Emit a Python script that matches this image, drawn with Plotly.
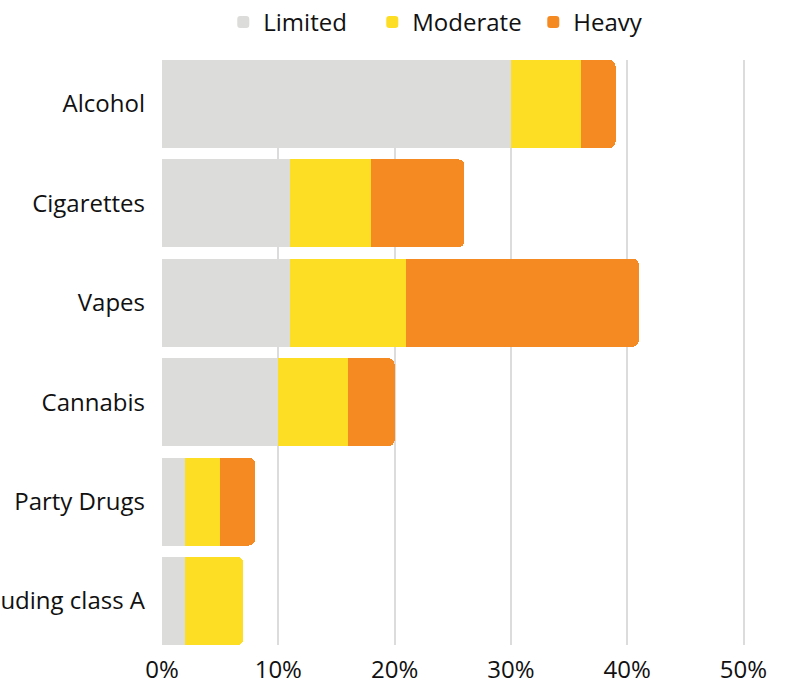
import plotly.graph_objects as go

# Share of respondents by substance and level of use
categories = ["Alcohol", "Cigarettes", "Vapes", "Cannabis", "Party Drugs",
              "Other drugs including class A"]
limited = [0.30, 0.11, 0.11, 0.10, 0.02, 0.02]
moderate = [0.06, 0.07, 0.10, 0.06, 0.03, 0.05]
heavy = [0.03, 0.08, 0.20, 0.04, 0.03, 0.00]
x_ticks = [0, 0.1, 0.2, 0.3, 0.4, 0.5]
x_tick_text = ["0%", "10%", "20%", "30%", "40%", "50%"]

# name, values, colour, width reserved for the legend entry text
series = [
    ("Limited", limited, "#DCDCDA", 104),
    ("Moderate", moderate, "#FDDE25", 116),
    ("Heavy", heavy, "#F68A22", 70),
]

FONT = "Open Sans, Lato, sans-serif"
BARGAP = 0.115

fig = go.Figure()
for name, vals, color, lw in series:
    fig.add_trace(go.Bar(
        y=categories, x=vals, name=name, orientation="h",
        marker=dict(color=color, line=dict(width=0)),
        legendwidth=lw, hoverinfo="x+name",
    ))

# the category axis ends flush with the outer bars
pad = 0.5 - BARGAP / 2

fig.update_layout(
    width=786, height=679,
    barmode="stack", bargap=BARGAP, barcornerradius=6,
    plot_bgcolor="white", paper_bgcolor="white",
    margin=dict(l=162, r=39, t=60, b=34, autoexpand=False),
    font=dict(family=FONT, size=24, color="#111111"),
    legend=dict(orientation="h", x=0.468, xanchor="center",
                y=1.0, yref="container", yanchor="top",
                font=dict(size=24), itemwidth=30, traceorder="normal"),
    xaxis=dict(range=[0, 0.503], tickvals=x_ticks, ticktext=x_tick_text,
               showgrid=True, gridcolor="#DCDCDC", gridwidth=2,
               zeroline=False, showline=False, automargin=False,
               ticklabelstandoff=8, tickfont=dict(size=24)),
    yaxis=dict(range=[len(categories) - 1 + pad, -pad], showgrid=False,
               zeroline=False, automargin=False, ticklabelstandoff=16,
               tickfont=dict(size=24)),
)

fig.write_html("out.html")
